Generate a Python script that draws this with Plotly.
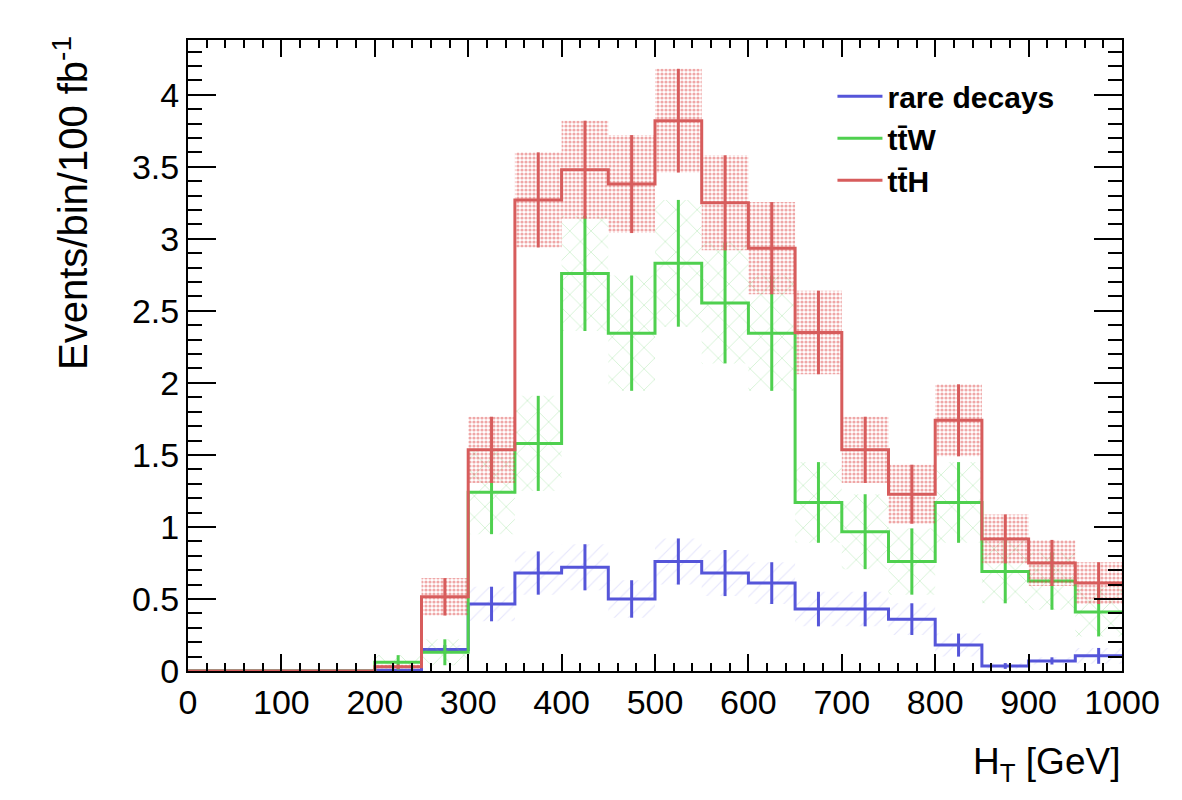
import plotly.graph_objects as go

# ---------------- data ----------------
bin_edges = list(range(0, 1001, 50))

rare = [0, 0, 0, 0, 0.005, 0.15, 0.465, 0.68, 0.72, 0.50, 0.76, 0.68, 0.61, 0.43, 0.43, 0.36, 0.18, 0.035, 0.07, 0.105]
rare_err = [0, 0, 0, 0, 0.005, 0.03, 0.12, 0.15, 0.16, 0.13, 0.16, 0.16, 0.145, 0.12, 0.12, 0.11, 0.08, 0.02, 0.025, 0.055]

ttw = [0, 0, 0, 0, 0.06, 0.13, 1.24, 1.58, 2.76, 2.345, 2.83, 2.555, 2.345, 1.17, 0.967, 0.76, 1.17, 0.69, 0.625, 0.41]
ttw_err = [0, 0, 0, 0, 0.05, 0.09, 0.29, 0.33, 0.40, 0.40, 0.44, 0.42, 0.40, 0.28, 0.26, 0.23, 0.28, 0.22, 0.20, 0.17]

tth = [0, 0, 0, 0, 0.03, 0.515, 1.535, 3.27, 3.48, 3.38, 3.82, 3.25, 2.935, 2.35, 1.535, 1.227, 1.74, 0.917, 0.75, 0.61]
tth_err = [0, 0, 0, 0, 0.015, 0.13, 0.23, 0.33, 0.34, 0.34, 0.36, 0.33, 0.32, 0.29, 0.23, 0.205, 0.25, 0.17, 0.16, 0.145]

names = ["rare decays", "tt̄W", "tt̄H"]
x_ticks = list(range(0, 1001, 100))
y_ticks = [0, 0.5, 1, 1.5, 2, 2.5, 3, 3.5, 4]

# ---------------- styles ----------------
FONT = "Liberation Sans, Arial, Helvetica, sans-serif"
styles = [
    dict(color="#5555d9", band="rgba(140,140,240,0.45)", shape="/", size=10, solidity=0.1),
    dict(color="#4fd04f", band="rgba(110,215,110,0.8)", shape="x", size=15, solidity=0.09),
    dict(color="#d75c5c", band="rgba(220,60,60,0.9)", shape=".", size=4, solidity=0.5),
]

fig = go.Figure()
centers = [(bin_edges[i] + bin_edges[i + 1]) / 2 for i in range(len(bin_edges) - 1)]

for name, vals, errs, st in zip(names, [rare, ttw, tth], [rare_err, ttw_err, tth_err], styles):
    # uncertainty band (one box per bin)
    bx, by = [], []
    for i, (v, e) in enumerate(zip(vals, errs)):
        if e <= 0:
            continue
        lo, hi = bin_edges[i], bin_edges[i + 1]
        bx += [lo, hi, hi, lo, lo, None]
        by += [v - e, v - e, v + e, v + e, v - e, None]
    fig.add_trace(go.Scatter(
        x=bx, y=by, mode="lines", fill="toself", line=dict(width=0),
        fillcolor="rgba(0,0,0,0)",
        fillpattern=dict(shape=st["shape"], fgcolor=st["band"], bgcolor="rgba(0,0,0,0)",
                         size=st["size"], solidity=st["solidity"], fillmode="overlay"),
        showlegend=False, hoverinfo="skip"))
    # step histogram line
    fig.add_trace(go.Scatter(
        x=bin_edges, y=vals + [vals[-1]], mode="lines", line_shape="hv",
        line=dict(color=st["color"], width=3), name=name, showlegend=True))
    # vertical error bars
    fig.add_trace(go.Scatter(
        x=centers, y=vals, mode="markers",
        marker=dict(size=0, color="rgba(0,0,0,0)"),
        error_y=dict(type="data", array=errs, visible=True, width=0,
                     thickness=3, color=st["color"]),
        showlegend=False, hoverinfo="skip"))

axis_common = dict(
    showgrid=False, zeroline=False, showline=True, linecolor="black", linewidth=2,
    mirror="allticks", ticks="inside", tickcolor="black", tickwidth=2,
    tickfont=dict(family=FONT, size=34, color="black"),
)

fig.update_xaxes(
    range=[0, 1000], tickvals=x_ticks, ticktext=[str(t) for t in x_ticks], ticklen=17,
    minor=dict(dtick=20, tick0=0, ticklen=8, ticks="inside", tickcolor="black", tickwidth=2),
    **axis_common)
fig.update_yaxes(
    range=[0, 4.38], tickvals=y_ticks, ticktext=[f"{t:g}" for t in y_ticks], ticklen=28,
    minor=dict(dtick=0.1, tick0=0, ticklen=14, ticks="inside", tickcolor="black", tickwidth=2),
    **axis_common)

fig.update_layout(
    width=1182, height=800,
    margin=dict(l=188, r=60, t=40, b=129),
    paper_bgcolor="white", plot_bgcolor="white",
    font=dict(family=FONT, color="black"),
    showlegend=True,
    legend=dict(x=0.69, y=0.952, xanchor="left", yanchor="top",
                bgcolor="rgba(0,0,0,0)", borderwidth=0,
                font=dict(family=FONT, size=30, color="black", weight="bold"),
                itemwidth=45, tracegroupgap=0),
    annotations=[
        dict(text="H<sub>T</sub> [GeV]", xref="paper", yref="paper", x=1.0, y=-0.107,
             xanchor="right", yanchor="top", showarrow=False,
             font=dict(family=FONT, size=37, color="black")),
        dict(text="Events/bin/100 fb<sup>-1</sup>", xref="paper", yref="paper",
             x=-0.126, y=1.01, xanchor="center", yanchor="top", textangle=-90,
             showarrow=False, font=dict(family=FONT, size=40, color="black")),
    ],
)

fig.write_html("out.html")
